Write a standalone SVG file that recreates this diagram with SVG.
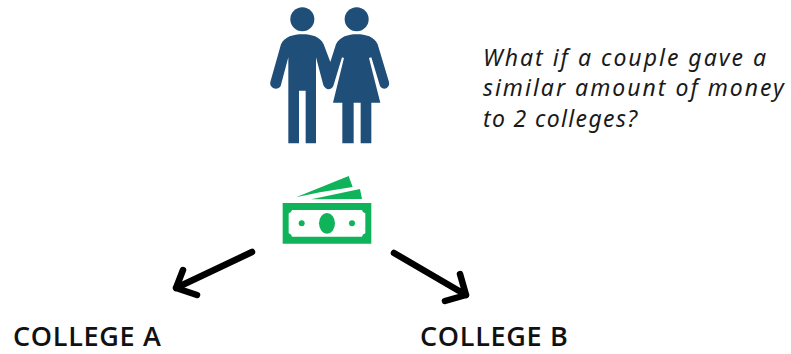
<svg xmlns="http://www.w3.org/2000/svg" width="791" height="354" viewBox="0 0 791 354">
<style>
.q{font-family:"Noto Sans",sans-serif;font-style:italic;font-size:23px;letter-spacing:2px;fill:#1a1a1a}
.t{letter-spacing:1.35px}
.c{font-family:"Open Sans",sans-serif;font-weight:600;font-size:27px;letter-spacing:.7px;fill:#111}
.p{fill:#1f4e79}
.m{fill:#0fb45a}
.a{fill:none;stroke:#000;stroke-width:6.5;stroke-linecap:round;stroke-linejoin:round}
</style>
<rect width="791" height="354" fill="#fff"/>
<g id="couple" transform="translate(250,0) scale(.3333)">
<circle class="p" cx="157" cy="58" r="36"/>
<circle class="p" cx="320" cy="58" r="36"/>
<path class="p" d="M157,103C185,103 210,110 221,133L241,186L258,133C270,110 295,103 320,103C348,103 372,110 383,133L417,246C421,264 400,274 390,258L364,172L357,174L391,308H364V430H332V308H311V430H277V308H249L282,174L276,172L250,258C242,272 226,270 220,255L198,172V430H167V272H147V430H115V172L92,258C82,274 57,264 61,246L93,133C104,110 130,103 157,103Z"/>
</g>
<g id="money" transform="translate(270,165) scale(.3333)">
<path class="m" fill-rule="evenodd" d="M38,114H304V236H38ZM66,135Q65,143 56,145V205Q65,207 66,215H276Q277,207 286,205V145Q277,143 276,135Z"/>
<ellipse class="m" cx="171" cy="175" rx="24" ry="31"/>
<circle class="m" cx="95" cy="175" r="9"/>
<circle class="m" cx="246" cy="175" r="9"/>
<path class="m" d="M78,97L236,33L248,66L150,82Z"/>
<path class="m" d="M124,103L270,72L276,102Z"/>
</g>
<g id="connectors">
<path class="a" d="M252,252L176,288M183,270L176,288L197,295"/>
<path class="a" d="M394,253L466,295M460,274L466,295L445,301"/>
</g>
<g id="question">
<text class="q" x="483" y="66">What if a couple gave a</text>
<text class="q" x="483" y="96">similar amount of money</text>
<text class="q t" x="483" y="127">to 2 colleges?</text>
</g>
<g id="college-a"><text class="c" x="13" y="346">COLLEGE A</text></g>
<g id="college-b"><text class="c" x="420" y="346">COLLEGE B</text></g>
</svg>
